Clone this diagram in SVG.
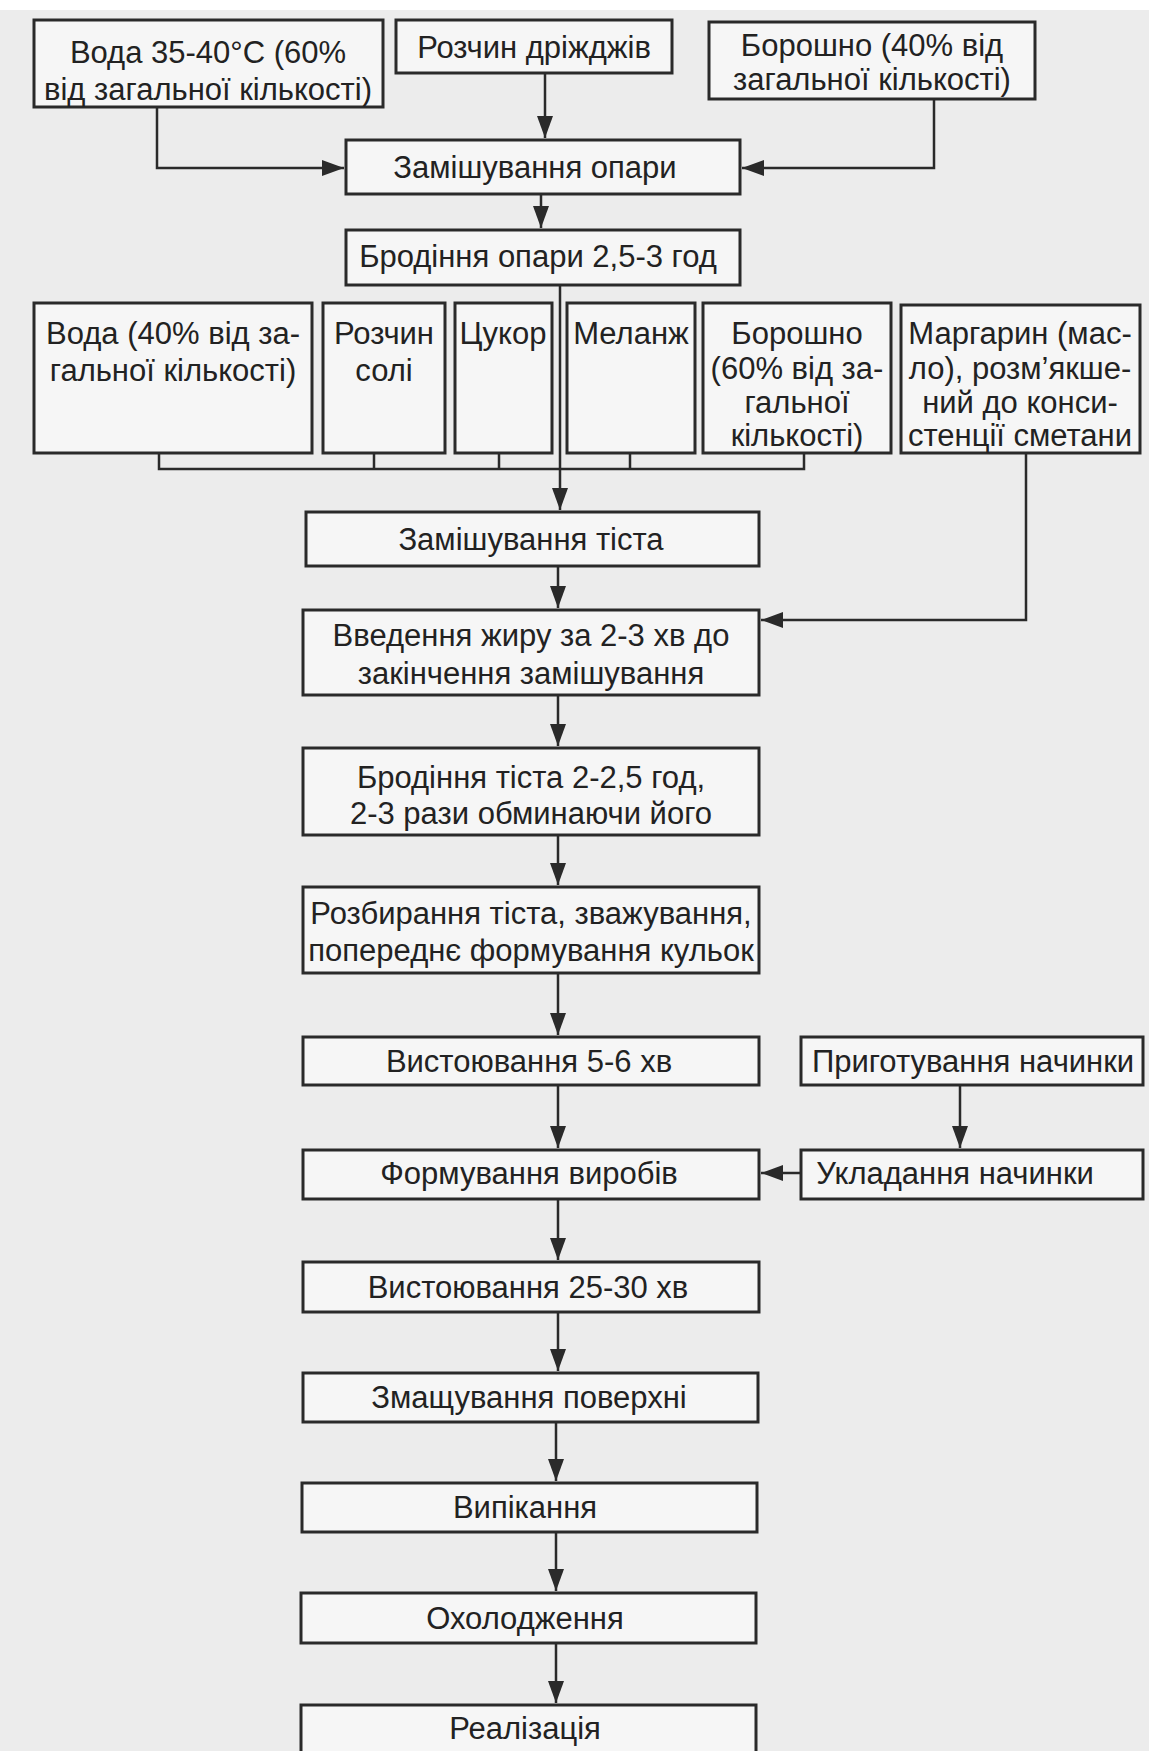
<svg xmlns="http://www.w3.org/2000/svg" width="1149" height="1751" viewBox="0 0 1149 1751">
<style>
.bg{fill:#ececec}
.box{fill:#f6f6f6;stroke:#2a2a2a;stroke-width:3}
.t{font-family:"Liberation Sans",Arial,sans-serif;font-size:31px;fill:#222222;text-anchor:middle}
.c{fill:none;stroke:#2a2a2a;stroke-width:2.5}
</style>
<defs>
<marker id="ah" markerUnits="userSpaceOnUse" markerWidth="22" markerHeight="16" refX="22" refY="8" orient="auto">
<path d="M0,0 L22,8 L0,16 z" fill="#2a2a2a"/>
</marker>
</defs>
<rect class="bg" x="0" y="0" width="1149" height="1751"/>
<rect x="0" y="0" width="1149" height="10" fill="#ffffff"/>

<g id="connectors">
<polyline class="c" points="157,107 157,168 344,168" marker-end="url(#ah)"/>
<line class="c" x1="545" y1="73" x2="545" y2="138" marker-end="url(#ah)"/>
<polyline class="c" points="934,99 934,168 742,168" marker-end="url(#ah)"/>
<line class="c" x1="541" y1="194" x2="541" y2="228" marker-end="url(#ah)"/>
<line class="c" x1="560" y1="285" x2="560" y2="510" marker-end="url(#ah)"/>
<polyline class="c" points="159,453 159,469 804,469 804,453"/>
<line class="c" x1="374" y1="453" x2="374" y2="469"/>
<line class="c" x1="499" y1="453" x2="499" y2="469"/>
<line class="c" x1="630" y1="453" x2="630" y2="469"/>
<polyline class="c" points="1026,453 1026,620 761,620" marker-end="url(#ah)"/>
<line class="c" x1="558" y1="566" x2="558" y2="608" marker-end="url(#ah)"/>
<line class="c" x1="558" y1="695" x2="558" y2="746" marker-end="url(#ah)"/>
<line class="c" x1="558" y1="835" x2="558" y2="885" marker-end="url(#ah)"/>
<line class="c" x1="558" y1="973" x2="558" y2="1035" marker-end="url(#ah)"/>
<line class="c" x1="558" y1="1085" x2="558" y2="1148" marker-end="url(#ah)"/>
<line class="c" x1="960" y1="1085" x2="960" y2="1148" marker-end="url(#ah)"/>
<line class="c" x1="801" y1="1173" x2="761" y2="1173" marker-end="url(#ah)"/>
<line class="c" x1="558" y1="1199" x2="558" y2="1260" marker-end="url(#ah)"/>
<line class="c" x1="558" y1="1312" x2="558" y2="1371" marker-end="url(#ah)"/>
<line class="c" x1="556" y1="1422" x2="556" y2="1481" marker-end="url(#ah)"/>
<line class="c" x1="556" y1="1532" x2="556" y2="1591" marker-end="url(#ah)"/>
<line class="c" x1="556" y1="1643" x2="556" y2="1703" marker-end="url(#ah)"/>
</g>

<g id="n-voda60">
<rect class="box" x="34" y="20" width="349" height="87"/>
<text class="t" x="208" y="63">Вода 35-40°C (60%</text>
<text class="t" x="208" y="100">від загальної кількості)</text>
</g>
<g id="n-drizhdzhi">
<rect class="box" x="396" y="20" width="276" height="53"/>
<text class="t" x="534" y="58">Розчин дріжджів</text>
</g>
<g id="n-boroshno40">
<rect class="box" x="709" y="22" width="326" height="77"/>
<text class="t" x="872" y="56">Борошно (40% від</text>
<text class="t" x="872" y="90">загальної кількості)</text>
</g>
<g id="n-zamish-opary">
<rect class="box" x="346" y="140" width="394" height="54"/>
<text class="t" x="535" y="178">Замішування опари</text>
</g>
<g id="n-brodinnia-opary">
<rect class="box" x="346" y="230" width="394" height="55"/>
<text class="t" x="538" y="267">Бродіння опари 2,5-3 год</text>
</g>
<g id="n-voda40">
<rect class="box" x="34" y="303" width="278" height="150"/>
<text class="t" x="173" y="344">Вода (40% від за-</text>
<text class="t" x="173" y="381">гальної кількості)</text>
</g>
<g id="n-sil">
<rect class="box" x="323" y="303" width="122" height="150"/>
<text class="t" x="384" y="344">Розчин</text>
<text class="t" x="384" y="381">солі</text>
</g>
<g id="n-tsukor">
<rect class="box" x="455" y="303" width="97" height="150"/>
<text class="t" x="503" y="344">Цукор</text>
</g>
<g id="n-melanzh">
<rect class="box" x="567" y="303" width="128" height="150"/>
<text class="t" x="631" y="344">Меланж</text>
</g>
<g id="n-boroshno60">
<rect class="box" x="703" y="303" width="188" height="150"/>
<text class="t" x="797" y="344">Борошно</text>
<text class="t" x="797" y="379">(60% від за-</text>
<text class="t" x="797" y="413">гальної</text>
<text class="t" x="797" y="446">кількості)</text>
</g>
<g id="n-margaryn">
<rect class="box" x="901" y="305" width="239" height="148"/>
<text class="t" x="1020" y="344">Маргарин (мас-</text>
<text class="t" x="1020" y="379">ло), розм’якше-</text>
<text class="t" x="1020" y="413">ний до конси-</text>
<text class="t" x="1020" y="446">стенції сметани</text>
</g>
<g id="n-zamish-tista">
<rect class="box" x="306" y="512" width="453" height="54"/>
<text class="t" x="531" y="550">Замішування тіста</text>
</g>
<g id="n-zhyr">
<rect class="box" x="303" y="610" width="456" height="85"/>
<text class="t" x="531" y="646">Введення жиру за 2-3 хв до</text>
<text class="t" x="531" y="684">закінчення замішування</text>
</g>
<g id="n-brodinnia-tista">
<rect class="box" x="303" y="748" width="456" height="87"/>
<text class="t" x="531" y="788">Бродіння тіста 2-2,5 год,</text>
<text class="t" x="531" y="824">2-3 рази обминаючи його</text>
</g>
<g id="n-rozbyrannia">
<rect class="box" x="303" y="887" width="456" height="86"/>
<text class="t" x="531" y="924">Розбирання тіста, зважування,</text>
<text class="t" x="531" y="961">попереднє формування кульок</text>
</g>
<g id="n-vystoiuvannia1">
<rect class="box" x="303" y="1037" width="456" height="48"/>
<text class="t" x="529" y="1072">Вистоювання 5-6 хв</text>
</g>
<g id="n-pryhotuvannia">
<rect class="box" x="801" y="1037" width="342" height="48"/>
<text class="t" x="973" y="1072">Приготування начинки</text>
</g>
<g id="n-formuvannia">
<rect class="box" x="303" y="1150" width="456" height="49"/>
<text class="t" x="529" y="1184">Формування виробів</text>
</g>
<g id="n-ukladannia">
<rect class="box" x="801" y="1150" width="342" height="49"/>
<text class="t" x="955" y="1184">Укладання начинки</text>
</g>
<g id="n-vystoiuvannia2">
<rect class="box" x="303" y="1262" width="456" height="50"/>
<text class="t" x="528" y="1298">Вистоювання 25-30 хв</text>
</g>
<g id="n-zmashchuvannia">
<rect class="box" x="303" y="1373" width="455" height="49"/>
<text class="t" x="529" y="1408">Змащування поверхні</text>
</g>
<g id="n-vypikannia">
<rect class="box" x="302" y="1483" width="455" height="49"/>
<text class="t" x="525" y="1518">Випікання</text>
</g>
<g id="n-okholodzhennia">
<rect class="box" x="301" y="1593" width="455" height="50"/>
<text class="t" x="525" y="1629">Охолодження</text>
</g>
<g id="n-realizatsiia">
<rect class="box" x="301" y="1705" width="455" height="70"/>
<text class="t" x="525" y="1739">Реалізація</text>
</g>
</svg>
